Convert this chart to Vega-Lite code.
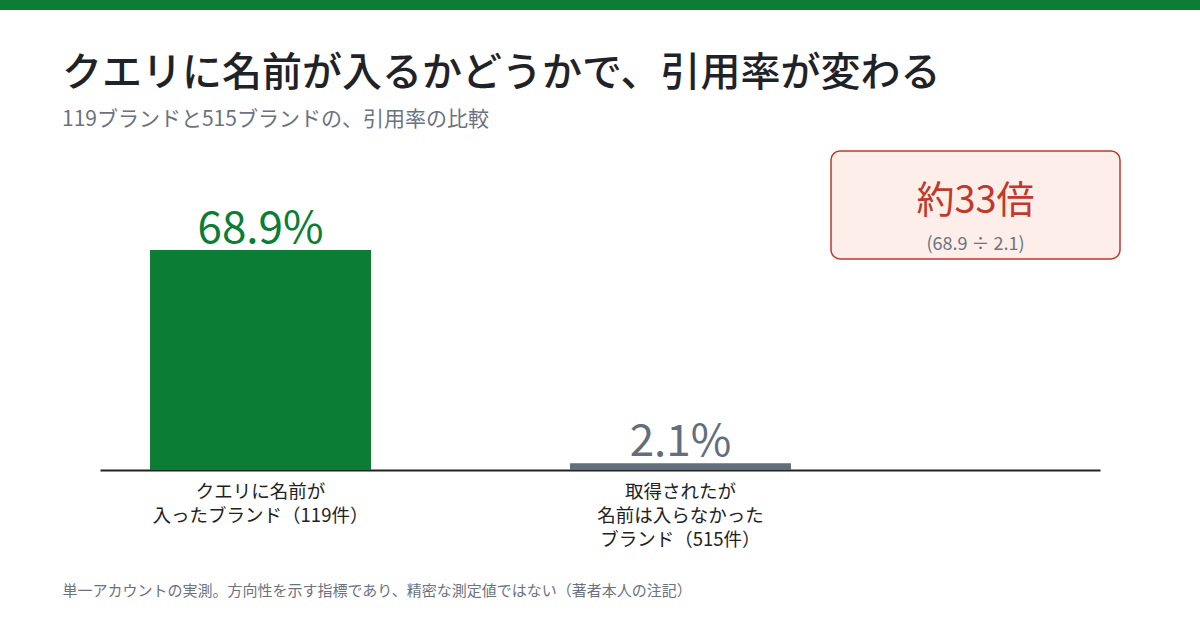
{
  "$schema": "https://vega.github.io/schema/vega-lite/v6.json",
  "description": "クエリに名前が入るかどうかで、引用率が変わる",
  "width": 1200,
  "height": 620,
  "autosize": "none",
  "padding": {"top": 10, "left": 0, "right": 0, "bottom": 0},
  "background": "#0b7d34",
  "config": {
    "view": {"fill": "white", "stroke": null},
    "font": "Noto Sans CJK JP"
  },
  "title": {
    "text": "クエリに名前が入るかどうかで、引用率が変わる",
    "subtitle": "119ブランドと515ブランドの、引用率の比較",
    "anchor": "start",
    "frame": "group",
    "offset": 0,
    "dx": 62,
    "dy": 120,
    "fontSize": 40,
    "fontWeight": 500,
    "color": "#1f2328",
    "subtitleFontSize": 21,
    "subtitleColor": "#6b7280",
    "subtitlePadding": 15
  },
  "datasets": {
    "rates": [
      {"group": "クエリに名前が|入ったブランド（119件）", "rate": 68.9, "label": "68.9%"},
      {"group": "取得されたが|名前は入らなかった|ブランド（515件）", "rate": 2.1, "label": "2.1%"}
    ],
    "callout": [
      {"name": "ratio", "headline": "約33倍", "detail": "(68.9 ÷ 2.1)"}
    ]
  },
  "layer": [
    {
      "data": {"name": "rates"},
      "encoding": {
        "x": {
          "field": "group",
          "type": "nominal",
          "sort": null,
          "scale": {"range": [100, 1100], "paddingInner": 0.4738, "paddingOuter": 0.4275, "align": 0.1393},
          "axis": {
            "orient": "bottom",
            "offset": -160,
            "title": "単一アカウントの実測。方向性を示す指標であり、精密な測定値ではない（著者本人の注記）",
            "titleAnchor": "start",
            "titleAlign": "left",
            "titleX": 62,
            "titleY": 120,
            "titleBaseline": "middle",
            "titleFontSize": 15,
            "titleFontWeight": "normal",
            "titleColor": "#6b7280",
            "domainColor": "#222222",
            "domainWidth": 2,
            "ticks": false,
            "grid": false,
            "labelAngle": 0,
            "labelFontSize": 18.5,
            "labelColor": "#222222",
            "labelPadding": 12,
            "labelBaseline": "top",
            "labelLineHeight": 24,
            "labelLimit": 0,
            "labelExpr": "split(datum.label, '|')"
          }
        },
        "y": {
          "field": "rate",
          "type": "quantitative",
          "scale": {"domain": [-50.11, 144.06], "nice": false, "zero": false},
          "axis": null
        },
        "color": {
          "field": "group",
          "type": "nominal",
          "sort": null,
          "scale": {"range": ["#0b7d34", "#636e7b"]},
          "legend": null
        }
      },
      "layer": [
        {"mark": {"type": "bar"}, "encoding": {"y2": {"datum": 0}}},
        {
          "mark": {"type": "text", "baseline": "alphabetic", "dy": -7, "fontSize": 44},
          "encoding": {"text": {"field": "label"}}
        }
      ]
    },
    {
      "data": {"name": "callout"},
      "encoding": {
        "x": {
          "field": "name",
          "type": "nominal",
          "scale": {"range": [831, 1120], "paddingInner": 0, "paddingOuter": 0},
          "axis": null
        }
      },
      "layer": [
        {
          "mark": {"type": "rect", "fill": "#fdeeea", "stroke": "#c0392b", "strokeWidth": 1.5, "cornerRadius": 9},
          "encoding": {
            "y": {"datum": 99.9, "type": "quantitative"},
            "y2": {"datum": 66.1}
          }
        },
        {
          "mark": {"type": "text", "baseline": "alphabetic", "fontSize": 38, "color": "#c0392b"},
          "encoding": {
            "y": {"datum": 80.5, "type": "quantitative"},
            "text": {"field": "headline"}
          }
        },
        {
          "mark": {"type": "text", "baseline": "alphabetic", "fontSize": 18, "color": "#6b7280"},
          "encoding": {
            "y": {"datum": 68.9, "type": "quantitative"},
            "text": {"field": "detail"}
          }
        }
      ]
    }
  ],
  "resolve": {"scale": {"x": "independent"}, "axis": {"x": "independent"}}
}
